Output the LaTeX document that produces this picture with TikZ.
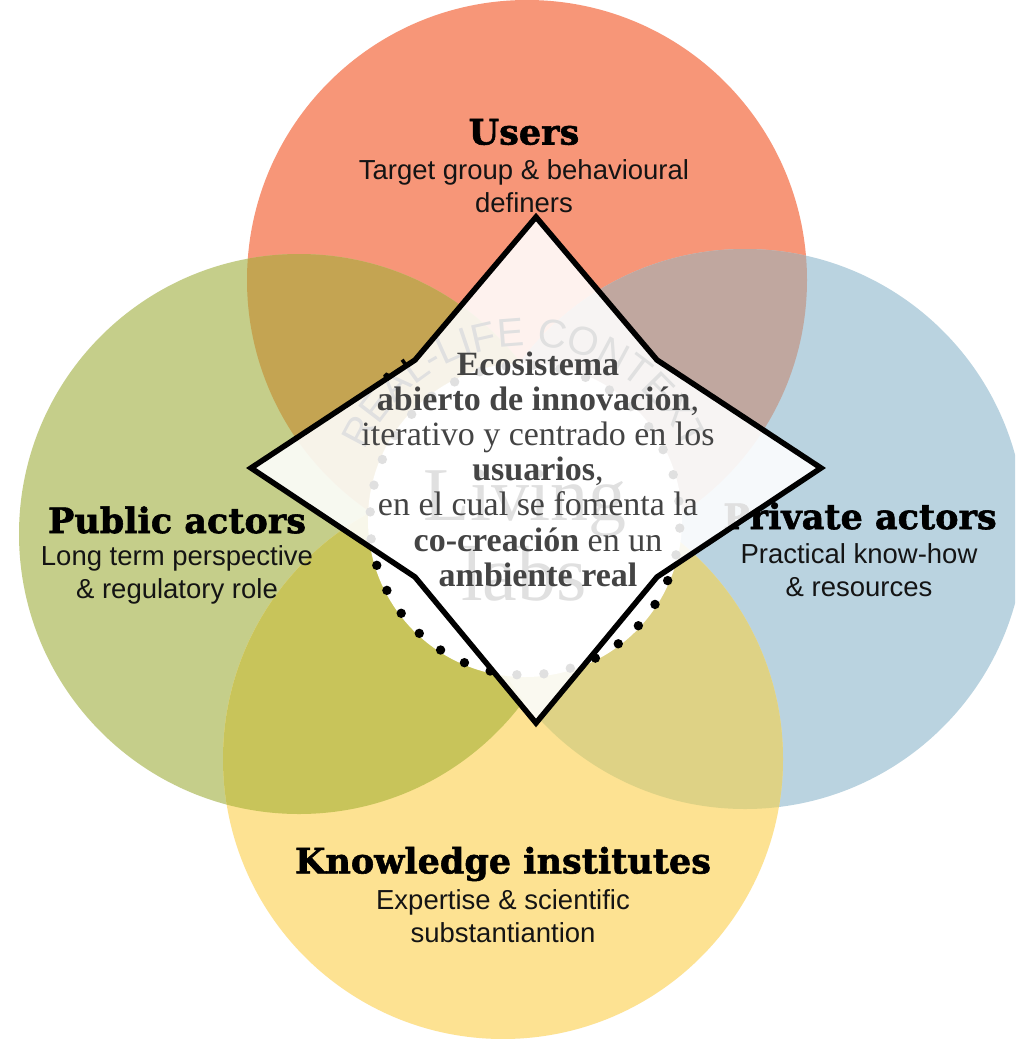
\documentclass[tikz,border=0pt]{standalone}
\usepackage{fontspec}
\usetikzlibrary{decorations.text}
\setmainfont{Liberation Sans}
\newfontfamily\headfont[BoldFeatures={FakeBold=1.6}]{DejaVu Serif}
\newfontfamily\bodyfont{Liberation Serif}
\definecolor{cusers}{HTML}{F79678}
\definecolor{cpublic}{HTML}{C5CE8A}
\definecolor{cprivate}{HTML}{BAD3E0}
\definecolor{cknow}{HTML}{FDE292}
\definecolor{cup}{HTML}{C4A452}
\definecolor{cur}{HTML}{C0A79F}
\definecolor{cpk}{HTML}{C8C45A}
\definecolor{crk}{HTML}{DED285}
\definecolor{cbody}{HTML}{444444}
\tikzset{
  x=1pt,y=-1pt,
  headtext/.style={font=\headfont\bfseries\fontsize{35}{38}\selectfont,text=black,inner sep=0pt},
  subtext/.style={font=\fontsize{27.5}{33}\selectfont,text=black!92,align=center,inner sep=0pt},
  bodytext/.style={font=\bodyfont\fontsize{34}{35.2}\selectfont,text=cbody,align=center,inner sep=0pt},
  dia/.style={draw=black,line width=5.5pt,line join=miter,fill=white,fill opacity=.88},
  bigtext/.style={font=\bodyfont,text=black,anchor=base,inner sep=0pt},
}
\def\cU{(527,280) circle[radius=280]}
\def\cP{(299,534) circle[radius=280]}
\def\cV{(745,529) circle[radius=280]}
\def\cK{(503,759) circle[radius=280]}
\begin{document}
\begin{tikzpicture}
\useasboundingbox (0,0) rectangle (1015,1039);
\clip (0,0) rectangle (1015,1039);
\fill[white] (0,0) rectangle (1015,1039);
% circles
\fill[cusers] \cU;
\fill[cprivate] \cV;
\fill[cpublic] \cP;
\fill[cknow] \cK;
\begin{scope}\clip \cU; \fill[cup] \cP; \fill[cur] \cV; \end{scope}
\begin{scope}\clip \cK; \fill[cpk] \cP; \fill[crk] \cV; \end{scope}
% central disc of the living lab figure
\fill[white] (525,520) circle[radius=157];
\foreach \a in {0,10,...,350} \fill[black] ({525+155*cos(\a+93)},{520+155*sin(\a+93)}) circle[radius=4.7];
\path[decorate,decoration={text along path,text align=center,
  text={|\fontsize{40}{40}\selectfont\color{black}|REAL-LIFE CONTEXT}}]
  (525,520) ++(195:174) arc[start angle=195,end angle=345,radius=174];
\node[bigtext,font=\bodyfont\fontsize{76}{76}\selectfont] (living) at (525,520) {Living};
\node[bigtext,font=\bodyfont\fontsize{78}{78}\selectfont] (labs) at (524,600) {labs};
% labels
\node[headtext] (users) at (524,132) {Users};
\node[subtext] (usersub) at (524,186) {Target group \& behavioural\\definers};
\node[headtext] (public) at (177,520) {Public actors};
\node[subtext] (publicsub) at (177,575) {Long term perspective\\\& regulatory role};
\node[headtext] (private) at (860,516) {Private actors};
\node[subtext] (privatesub) at (859,570) {Practical know-how\\\& resources};
\node[headtext] (know) at (503,864) {Knowledge institutes};
\node[subtext] (knowsub) at (503,916) {Expertise \& scientific\\substantiantion};
% diamond
\draw[dia] (536,217) -- (657,360) -- (821,468) -- (657,577) -- (536,723) -- (415,577) -- (251,468) -- (415,360) -- cycle;
\node[bodytext] (body) at (538,469) {\textbf{Ecosistema}\\\textbf{abierto de innovación},\\iterativo y centrado en los\\\textbf{usuarios},\\en el cual se fomenta la\\\textbf{co-creación} en un\\\textbf{ambiente real}};
\end{tikzpicture}
\end{document}
